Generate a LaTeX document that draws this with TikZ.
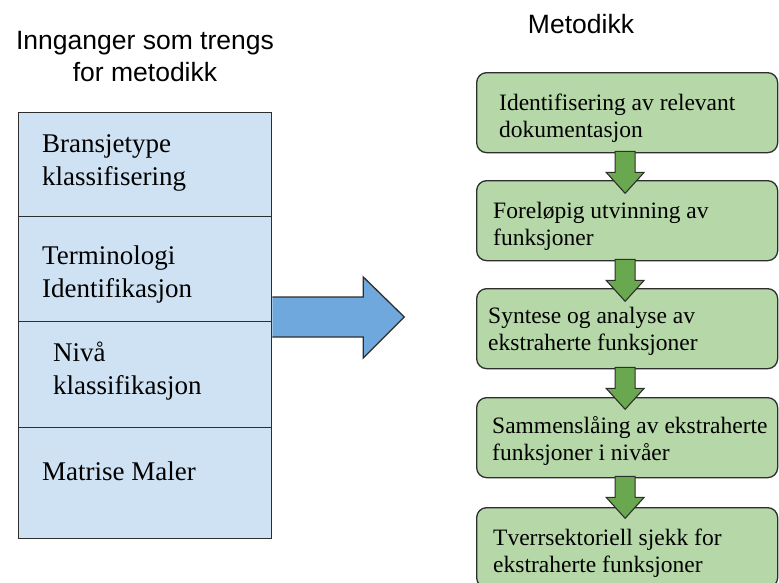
\documentclass[tikz,border=0pt]{standalone}
\usepackage{fontspec}
\setmainfont{Liberation Serif}
\setsansfont{Liberation Sans}
\usetikzlibrary{calc}
\definecolor{inboxfill}{HTML}{CFE2F3}
\definecolor{bigarrowfill}{HTML}{6FA8DC}
\definecolor{stepfill}{HTML}{B6D7A8}
\definecolor{steparrowfill}{HTML}{6AA84F}
\definecolor{edgecol}{HTML}{2E2E2E}
\begin{document}
\begin{tikzpicture}[x=1pt,y=-1pt,
  titletext/.style={font=\sffamily\fontsize{26.5}{32}\selectfont, align=center, inner sep=0pt},
  section/.style={draw=edgecol, line width=1.3pt, fill=inboxfill, minimum width=253pt,
    inner sep=0pt, anchor=north west},
  sectiontext/.style={font=\fontsize{27}{32.5}\selectfont, align=left, inner sep=0pt, anchor=base west},
  stepbox/.style={draw=edgecol, line width=1.3pt, fill=stepfill, rounded corners=10pt,
    minimum width=301pt, minimum height=80pt, inner sep=0pt, anchor=north west},
  steptext/.style={font=\fontsize{23.5}{26.5}\selectfont, align=left, inner sep=0pt, anchor=base west},
  flowarrow/.style={draw=edgecol, line width=1.1pt, fill=steparrowfill, line join=miter},
  bigarrow/.style={draw=edgecol, line width=1.3pt, fill=bigarrowfill, line join=miter},
  greenarrow/.pic={
    \path[flowarrow] (-10,-2) -- (10,-2) -- (10,19) -- (19,19) -- (0,40)
      -- (-19,19) -- (-10,19) -- cycle;
  }]
\useasboundingbox (0,0) rectangle (779,582);
\clip (0,0) rectangle (779,582);

% headings (multi-line nodes sit on the baseline of their last line)
\node[titletext, anchor=base] (intitle) at (145,81) {Innganger som trengs\\for metodikk};
\node[titletext, anchor=base] (methtitle) at (581,33) {Metodikk};

% input column: four stacked sections
\node[section, minimum height=104pt] (s1) at (18,112) {};
\node[section, minimum height=105pt] (s2) at (18,216) {};
\node[section, minimum height=106pt] (s3) at (18,321) {};
\node[section, minimum height=111pt] (s4) at (18,427) {};
\node[sectiontext] (t1) at (42,185) {Bransjetype\\klassifisering};
\node[sectiontext] (t2) at (42,297) {Terminologi\\Identifikasjon};
\node[sectiontext] (t3) at (53,394) {Nivå\\klassifikasjon};
\node[sectiontext] (t4) at (42,480) {Matrise Maler};

% block arrow from the inputs to the method
\coordinate (bigstart) at ($(s3.north east)+(0,-4)$);
\path[bigarrow] ($(bigstart)+(0,-20)$) -- ++(91,0) -- ++(0,-20) -- ++(41,40)
  -- ++(-41,41) -- ++(0,-21) -- ++(-91,0);

% method steps
\node[stepbox] (g1) at (476,72) {};
\node[stepbox] (g2) at (476,180) {};
\node[stepbox] (g3) at (476,288) {};
\node[stepbox] (g4) at (476,397) {};
\node[stepbox] (g5) at (476,507) {};
\node[steptext] (u1) at (499,137) {Identifisering av relevant\\dokumentasjon};
\node[steptext] (u2) at (493,245) {Foreløpig utvinning av\\funksjoner};
\node[steptext] (u3) at (488,350) {Syntese og analyse av\\ekstraherte funksjoner};
\node[steptext] (u4) at (492,460) {Sammenslåing av ekstraherte\\funksjoner i nivåer};
\node[steptext] (u5) at (493,572) {Tverrsektoriell sjekk for\\ekstraherte funksjoner};

% arrows between the steps
\foreach \b in {g1,g2,g3,g4} {
  \pic at ($(\b.south)+(-2,0)$) {greenarrow};
}
\end{tikzpicture}
\end{document}
